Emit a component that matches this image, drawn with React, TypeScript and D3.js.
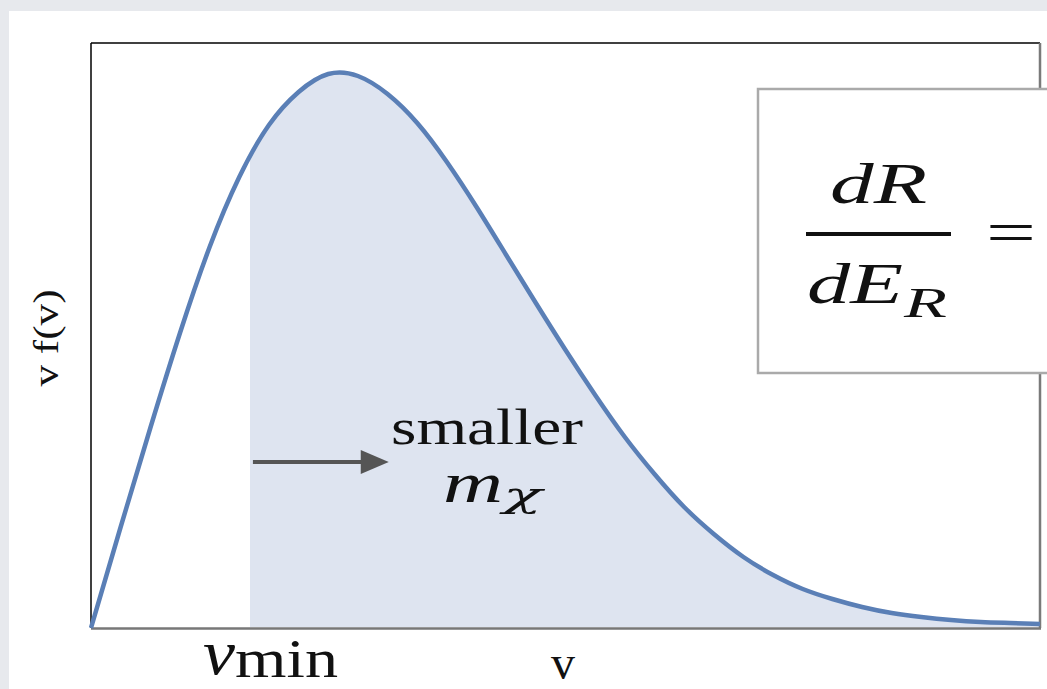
import React from "react";
import * as d3 from "d3";

// velocity samples (km/s) and v·f(v) (arbitrary units)
const velocities = [0, 25, 50, 75, 100, 125, 150, 175, 200, 225, 250, 275, 300, 325, 350, 375, 400, 425, 450, 475, 500, 525, 550, 575, 600, 625, 650, 675, 700, 725, 750, 775, 800];
const vfValues = [0, 101, 200, 295, 381, 451, 503, 536, 554, 552, 534, 505, 466, 421, 373, 325, 278, 233, 191, 154, 121, 94, 71, 53, 39, 29, 21, 15, 11, 8, 6, 5, 4];
const xDomain = [0, 800];
const yDomain = [0, 585];
const vMin = 134;
const arrowFrom = 136.5;
const arrowTo = 251;
const arrowLevel = 166;

const W = 1047;
const H = 689;
const serif = "'Liberation Serif', 'Times New Roman', serif";

export default function App() {
  const x = d3.scaleLinear().domain(xDomain).range([91, 1040]);
  const y = d3.scaleLinear().domain(yDomain).range([628, 43]);
  const pts: [number, number][] = velocities.map((v, i) => [v, vfValues[i]]);
  const line = d3
    .line<[number, number]>()
    .x((d) => x(d[0]))
    .y((d) => y(d[1]))
    .curve(d3.curveNatural);
  const area = d3
    .area<[number, number]>()
    .x((d) => x(d[0]))
    .y0(y(0) - 1)
    .y1((d) => y(d[1]))
    .curve(d3.curveNatural);

  const x0 = x(xDomain[0]);
  const x1 = x(xDomain[1]);
  const yTop = y(yDomain[1]);
  const yBot = y(0);
  const ay = y(arrowLevel);
  const ax0 = x(arrowFrom);
  const ax1 = x(arrowTo);

  return (
    <svg
      width={W}
      height={H}
      style={{ position: "absolute", left: 0, top: 0, display: "block" }}
      xmlns="http://www.w3.org/2000/svg"
    >
      <defs>
        <clipPath id="shade">
          <rect x={x(vMin)} y={0} width={W} height={H} />
        </clipPath>
      </defs>
      <rect x={0} y={0} width={W} height={H} fill="#e7e9ed" />
      <rect x={9} y={11} width={W} height={H} fill="#ffffff" />

      {/* shaded area */}
      <path d={area(pts) || ""} fill="#dee4f0" clipPath="url(#shade)" />

      {/* frame */}
      <line x1={x0} y1={yTop} x2={x1} y2={yTop} stroke="#000" strokeWidth={1.5} />
      <line x1={x0} y1={yTop} x2={x0} y2={yBot} stroke="#000" strokeWidth={1.5} />
      <line x1={x1} y1={yTop} x2={x1} y2={yBot} stroke="#7a7a7a" strokeWidth={2.5} />
      <line x1={x0} y1={yBot + 0.5} x2={x1 + 1} y2={yBot + 0.5} stroke="#777" strokeWidth={2.5} />

      {/* curve */}
      <path d={line(pts) || ""} fill="none" stroke="#5a7fb6" strokeWidth={4.5} strokeLinecap="butt" />

      {/* arrow */}
      <line x1={ax0} y1={ay} x2={ax1 - 26} y2={ay} stroke="#555" strokeWidth={4} />
      <path d={`M${ax1 - 28},${ay - 12} L${ax1},${ay} L${ax1 - 28},${ay + 12} Z`} fill="#555" />

      {/* annotation */}
      <text x={391} y={444} fontFamily={serif} fontSize={50} textLength={192} lengthAdjust="spacingAndGlyphs" fill="#111">
        smaller
      </text>
      <text x={443} y={502} fontFamily={serif} fontStyle="italic" fontSize={58} textLength={60} lengthAdjust="spacingAndGlyphs" fill="#111">
        m
      </text>
      <text x={503} y={507} fontFamily="'DejaVu Serif', serif" fontStyle="italic" fontSize={36} textLength={39} lengthAdjust="spacingAndGlyphs" fill="#111">
        χ
      </text>

      {/* axis labels */}
      <text
        transform="translate(58,338) rotate(-90)"
        textAnchor="middle"
        fontFamily={serif}
        fontSize={36}
        textLength={97}
        lengthAdjust="spacingAndGlyphs"
        fill="#111"
      >
        v f(v)
      </text>
      <text x={563} y={679} textAnchor="middle" fontFamily={serif} fontSize={48} fill="#111">
        v
      </text>
      <text x={203} y={674} fontFamily={serif} fontStyle="italic" fontSize={64} textLength={32} lengthAdjust="spacingAndGlyphs" fill="#111">
        v
      </text>
      <text x={235} y={677} fontFamily={serif} fontSize={54} textLength={103} lengthAdjust="spacingAndGlyphs" fill="#111">
        min
      </text>

      {/* formula box */}
      <rect x={758} y={89} width={400} height={284} fill="#fff" stroke="#aaa" strokeWidth={2.5} />
      <text x={830} y={203} fontFamily={serif} fontStyle="italic" fontSize={56} textLength={97} lengthAdjust="spacingAndGlyphs" fill="#111">
        dR
      </text>
      <line x1={806} y1={234} x2={951} y2={234} stroke="#111" strokeWidth={4} />
      <text x={807} y={303} fontFamily={serif} fontStyle="italic" fontSize={56} textLength={96} lengthAdjust="spacingAndGlyphs" fill="#111">
        dE
      </text>
      <text x={904} y={317} fontFamily={serif} fontStyle="italic" fontSize={42} textLength={43} lengthAdjust="spacingAndGlyphs" fill="#111">
        R
      </text>
      <text x={986} y={253} fontFamily={serif} fontSize={62} textLength={50} lengthAdjust="spacingAndGlyphs" fill="#111">
        =
      </text>
    </svg>
  );
}
